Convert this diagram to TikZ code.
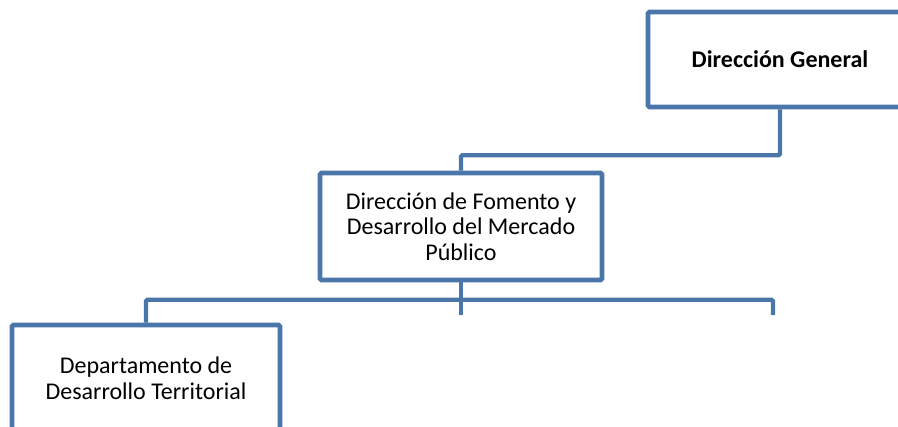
\documentclass[tikz,border=0pt]{standalone}
\usepackage{fontspec}
\setmainfont{Carlito}
\definecolor{orgblue}{RGB}{74,118,170}
\tikzset{
  unidad/.style={draw=orgblue, line width=3.4pt, rounded corners=1pt,
    fill=white, align=center, inner sep=0pt,
    font=\fontsize{18}{19.2}\selectfont},
  enlace/.style={draw=orgblue, line width=3.2pt, rounded corners=1pt}
}

\begin{document}
\begin{tikzpicture}[x=0.75pt,y=0.75pt]
\useasboundingbox (0,0) rectangle (898,426);
% unidades
\node[unidad, minimum width=198pt, minimum height=71.25pt] (dg) at (780,366.5)
  {\textbf{Dirección General}};
\node[unidad, minimum width=211.5pt, minimum height=80.25pt] (dfd) at (461,199.5)
  {Dirección de Fomento y\\Desarrollo del Mercado\\Público};
\node[unidad, minimum width=201pt, minimum height=79.5pt] (ddt) at (146,48)
  {Departamento de\\Desarrollo Territorial};
% extremos libres
\coordinate (c1) at (461,111);
\coordinate (c2) at (773,111);
% enlaces
\draw[enlace] (dg.south) -- ++(0,-46) -| (dfd.north);
\draw[enlace] (dfd.south) -- (c1);
\draw[enlace] (ddt.north) -- ++(0,23) -| (c2);
\end{tikzpicture}
\end{document}
